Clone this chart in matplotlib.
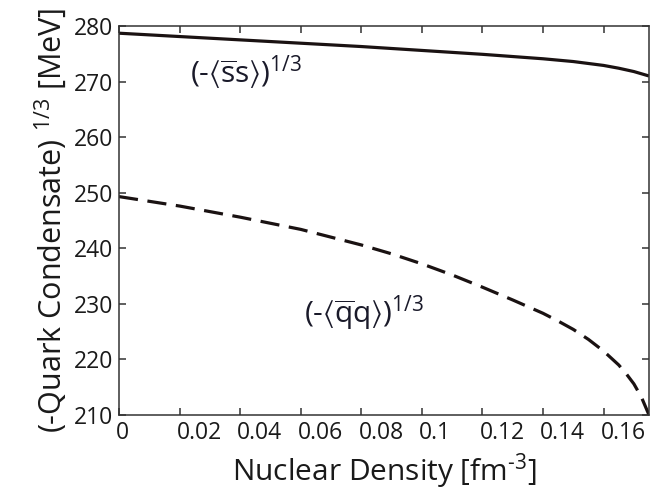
import matplotlib
matplotlib.use("Agg")
import matplotlib.pyplot as plt
import matplotlib.transforms as mtransforms

plt.rcParams['font.family'] = ['Open Sans', 'DejaVu Sans']
plt.rcParams['mathtext.fontset'] = 'custom'
plt.rcParams['mathtext.rm'] = 'Open Sans'
plt.rcParams['mathtext.it'] = 'Open Sans'
plt.rcParams['mathtext.fallback'] = 'stixsans'

# nuclear density [fm^-3]
rho = [0.0, 0.02, 0.04, 0.06, 0.08, 0.09, 0.10, 0.11, 0.12, 0.13, 0.14, 0.145,
       0.15, 0.155, 0.16, 0.165, 0.1675, 0.17, 0.1725, 0.175]
# (-<ss>)^(1/3) [MeV]
ss = [278.7, 278.1, 277.5, 276.9, 276.3, 275.95, 275.6, 275.25, 274.9, 274.5, 274.1, 273.85,
      273.6, 273.25, 272.9, 272.4, 272.1, 271.8, 271.4, 271.0]
# (-<qq>)^(1/3) [MeV]
qq = [249.3, 247.6, 245.6, 243.4, 240.6, 239.0, 237.2, 235.2, 233.0, 230.7, 228.3, 226.9,
      225.4, 223.6, 221.5, 219.0, 217.4, 215.6, 213.2, 210.0]

xticks = [0, 0.02, 0.04, 0.06, 0.08, 0.10, 0.12, 0.14, 0.16]
xticklabels = ['0', '0.02', '0.04', '0.06', '0.08', '0.1', '0.12', '0.14', '0.16']
yticks = [210, 220, 230, 240, 250, 260, 270, 280]

txt = '#1a1a1a'

fig = plt.figure(figsize=(6.52, 4.92), dpi=100)
ax = fig.add_axes([0.1825, 0.1565, 0.8134, 0.7907])

ax.plot(rho, ss, color='#1a1212', lw=2.3, solid_capstyle='butt')
ax.plot(rho, qq, color='#1a1212', lw=2.3, dashes=(6, 3))

ax.set_xlim(0, 0.1751)
ax.set_ylim(210, 280)

ax.set_xticks(xticks)
ax.set_xticklabels(xticklabels)
ax.set_yticks(yticks)
ax.tick_params(direction='in', length=5, width=1.1, color='#333333',
               top=True, right=True, labelsize=16.5, labelcolor=txt)
ax.tick_params(axis='x', pad=4)
ax.tick_params(axis='y', pad=4)

# x tick labels sit to the right of their ticks, like in the original
offset = mtransforms.ScaledTranslation(-2 / 72, 0, fig.dpi_scale_trans)
for lab in ax.get_xticklabels():
    lab.set_horizontalalignment('left')
    lab.set_transform(lab.get_transform() + offset)

for sp in ax.spines.values():
    sp.set_linewidth(1.1)
    sp.set_color('#333333')

ax.set_xlabel(r'Nuclear Density [fm$^{\text{-}3}$]', fontsize=21.5, color=txt, labelpad=5)
ax.set_ylabel(r'(-Quark Condensate) $^{1/3}$ [MeV]', fontsize=22, color=txt, labelpad=4)

ax.text(0.0235, 271.6, r'(-$\langle\overline{\mathregular{s}}\mathregular{s}\rangle$)$^{1/3}$',
        fontsize=21.5, color='#1a1a2a', ha='left', va='center')
ax.text(0.0612, 228.2, r'(-$\langle\overline{\mathregular{q}}\mathregular{q}\rangle$)$^{1/3}$',
        fontsize=21.5, color='#1a1a2a', ha='left', va='center')

fig.savefig('out.png', dpi=100)
